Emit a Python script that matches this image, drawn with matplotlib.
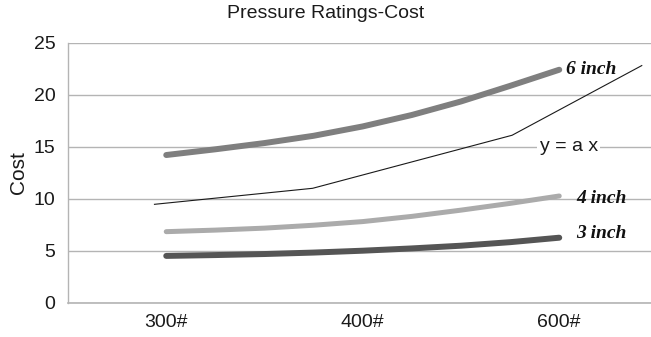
import matplotlib
matplotlib.use("Agg")
import matplotlib.pyplot as plt

# Pressure classes on the category axis
categories = ["300#", "400#", "600#"]

# Sample positions along the category axis (0 = 300#, 1 = 400#, 2 = 600#)
curve_x = [0.0, 0.25, 0.5, 0.75, 1.0, 1.25, 1.5, 1.75, 2.0]
cost_6in = [14.2, 14.75, 15.35, 16.05, 16.95, 18.05, 19.35, 20.85, 22.4]
cost_4in = [6.83, 6.98, 7.17, 7.45, 7.8, 8.3, 8.9, 9.55, 10.26]
cost_3in = [4.5, 4.58, 4.68, 4.82, 5.0, 5.22, 5.48, 5.82, 6.25]

# Linear reference line y = a x
ref_x = [-0.06, 0.745, 1.76, 2.42]
ref_y = [9.46, 11.0, 16.1, 22.8]

plt.rcParams["font.family"] = ["Liberation Sans", "DejaVu Sans"]

W, H = 651, 337
fig = plt.figure(figsize=(W / 100, H / 100), dpi=100)
ax = fig.add_axes([68 / W, (337 - 302.7) / H, 583 / W, 260 / H])

ax.set_xlim(-0.5, 2.467)
ax.set_ylim(0, 25)
ax.set_yticks([0, 5, 10, 15, 20, 25])
ax.set_xticks(range(len(categories)))
ax.set_xticklabels(categories)
ax.tick_params(axis="both", length=0, labelsize=14, colors="#1a1a1a")
ax.tick_params(axis="y", pad=9)
ax.tick_params(axis="x", pad=8)

ax.yaxis.grid(True, color="#b4b4b4", linewidth=1.0)
ax.set_axisbelow(True)
for side in ("top", "right"):
    ax.spines[side].set_visible(False)
ax.spines["left"].set_color("#b4b4b4")
ax.spines["bottom"].set_color("#b4b4b4")
ax.spines["left"].set_linewidth(1.0)
ax.spines["bottom"].set_linewidth(1.2)

ax.plot(ref_x, ref_y, color="#1a1a1a", linewidth=0.8, zorder=3)
line_style = dict(solid_capstyle="round", solid_joinstyle="round", zorder=4)
ax.plot(curve_x, cost_6in, color="#7f7f7f", linewidth=4.3, **line_style)
ax.plot(curve_x, cost_4in, color="#ababab", linewidth=3.6, **line_style)
ax.plot(curve_x, cost_3in, color="#555555", linewidth=4.3, **line_style)

label_font = dict(family=["Liberation Serif", "DejaVu Serif"], style="italic",
                  weight="bold", fontsize=14, color="#111111")
ax.annotate("6 inch", xy=(curve_x[-1], cost_6in[-1]), xytext=(5, 0),
            textcoords="offset points", va="center", ha="left", **label_font)
ax.annotate("4 inch", xy=(curve_x[-1], cost_4in[-1]), xytext=(12, -2),
            textcoords="offset points", va="center", ha="left", **label_font)
ax.annotate("3 inch", xy=(curve_x[-1], cost_3in[-1]), xytext=(12, 3),
            textcoords="offset points", va="center", ha="left", **label_font)

ax.text(1.9, 15, "y = a x", fontsize=14, color="#1a1a1a", va="center", ha="left",
        bbox=dict(facecolor="white", edgecolor="none", pad=2), zorder=5)

ax.set_ylabel("Cost", fontsize=15, color="#1a1a1a", labelpad=4)
fig.text(0.5, 1 - 14 / H, "Pressure Ratings-Cost", ha="center", va="center",
         fontsize=14, color="#1a1a1a")

fig.savefig("out.png", dpi=100)
